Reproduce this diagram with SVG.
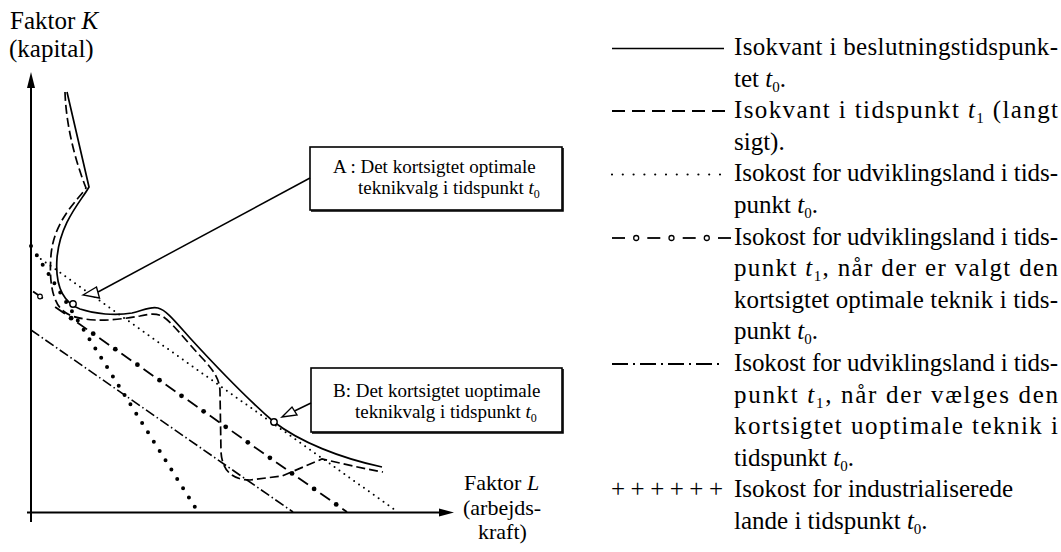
<svg xmlns="http://www.w3.org/2000/svg" width="1061" height="552" viewBox="0 0 1061 552">
<style>
  text { font-family: "Liberation Serif", "Times New Roman", serif; fill: #000; }
  .lg { font-size: 25px; }
  .ax { font-size: 25px; }
  .axr { font-size: 22px; }
  .bx { font-size: 19px; }
  .it { font-style: italic; }
  .sub { font-size: 15px; }
  .sub2 { font-size: 12px; }
  .axis { stroke: #000; stroke-width: 2; fill: none; }
  .solid { stroke: #000; stroke-width: 1.7; fill: none; }
  .dash { stroke: #000; stroke-width: 1.7; fill: none; stroke-dasharray: 9 4; }
  .fdot { stroke: #000; stroke-width: 2; fill: none; stroke-linecap: round; stroke-dasharray: 0 6; }
  .hdot { stroke: #000; stroke-width: 4; fill: none; stroke-linecap: round; stroke-dasharray: 0 11; }
  .odash { stroke: #000; stroke-width: 1.8; fill: none; stroke-dasharray: 12 15; stroke-dashoffset: 24.5; }
  .dd { stroke: #000; stroke-width: 1.6; fill: none; stroke-dasharray: 10 3 1.5 3; }
  .box { fill: #fff; stroke: #000; stroke-width: 1.6; }
  .shadow { fill: none; stroke: #000; stroke-width: 1.6; }
  .conn { stroke: #000; stroke-width: 1.5; fill: none; }
  .head { fill: #fff; stroke: #000; stroke-width: 1.4; stroke-linejoin: miter; }
  .pt { fill: #fff; stroke: #000; stroke-width: 1.4; }
  .mk { fill: #000; }
</style>
<rect x="0" y="0" width="1061" height="552" fill="#fff"/>

<g id="axes">
  <line class="axis" x1="31" y1="84" x2="31" y2="522"/>
  <polygon points="31,72 27,88 35,88" fill="#000"/>
  <line class="axis" x1="27" y1="512.5" x2="442" y2="512.5"/>
  <polygon points="454,512.5 439,508.5 439,516.5" fill="#000"/>
  <text class="ax" x="10" y="29">Faktor <tspan class="it">K</tspan></text>
  <text class="ax" x="9" y="57">(kapital)</text>
  <text class="axr" x="464" y="490">Faktor <tspan class="it">L</tspan></text>
  <text class="axr" x="463" y="514.5">(arbejds-</text>
  <text class="axr" x="478" y="539">kraft)</text>
</g>

<g id="isocost-lines">
  <line id="isocost-industrial" class="hdot" x1="31" y1="246" x2="198" y2="512"/>
  <line id="isocost-t0" class="fdot" x1="31" y1="252" x2="398" y2="512"/>
  <line id="isocost-t1-optimal" class="odash" x1="31" y1="290" x2="347" y2="512"/>
  <g id="isocost-t1-optimal-markers" class="mk">
    <circle cx="40" cy="296.5" r="2.3" fill="#fff" stroke="#000" stroke-width="1.2"/>
    <circle cx="71.1" cy="318.2" r="2.4"/>
    <circle cx="93.2" cy="333.7" r="2.4"/>
    <circle cx="115.3" cy="349.2" r="2.4"/>
    <circle cx="137.4" cy="364.7" r="2.4"/>
    <circle cx="159.5" cy="380.2" r="2.4"/>
    <circle cx="181.5" cy="395.8" r="2.4"/>
    <circle cx="203.6" cy="411.3" r="2.4"/>
    <circle cx="225.7" cy="426.8" r="2.4"/>
    <circle cx="247.8" cy="442.3" r="2.4"/>
    <circle cx="269.9" cy="457.8" r="2.4"/>
    <circle cx="292.0" cy="473.4" r="2.4"/>
    <circle cx="314.1" cy="488.9" r="2.4"/>
    <circle cx="336.2" cy="504.4" r="2.4"/>
  </g>
  <line id="isocost-t1-suboptimal" class="dd" x1="31" y1="330" x2="293" y2="512"/>
</g>

<g id="isoquants">
  <path id="isoquant-t0" class="solid" d="M67,92 L89,187 C82,200 60,222 57,258 C55,285 62,302 80,309 C95,314 115,316 132,313 C142,311 150,306 158,308 C166,310 174,320 190,338 C212,362 245,397 274,422 C300,442 340,458 382,467"/>
  <path id="isoquant-t1" class="dash" d="M65,92 C66,125 75,160 86,188 C78,200 54,220 51,255 C49,280 52,300 62,310 C70,317 80,319 95,320 C110,321 128,318 140,316 C150,314 155,313 162,316 C172,322 185,340 204,360 C214,371 220,380 220,392 L221,452 C222,470 232,480 250,480 L282,476 L322,459 C340,463 360,468 383,472"/>
</g>

<g id="box-a">
  <rect class="box" x="310" y="147" width="252" height="63"/>
  <path class="shadow" d="M311,211 H563 V148"/>
  <text class="bx" x="333" y="173">A : Det kortsigtet optimale</text>
  <text class="bx" x="358" y="194">teknikvalg i tidspunkt <tspan class="it">t</tspan><tspan class="sub2" dy="4">0</tspan></text>
</g>

<g id="box-b">
  <rect class="box" x="311" y="368" width="251" height="64"/>
  <path class="shadow" d="M312,433 H563 V369"/>
  <text class="bx" x="333" y="397">B: Det kortsigtet uoptimale</text>
  <text class="bx" x="355" y="418">teknikvalg i tidspunkt <tspan class="it">t</tspan><tspan class="sub2" dy="4">0</tspan></text>
</g>

<g id="connectors">
  <line class="conn" x1="98" y1="292" x2="310" y2="178"/>
  <polygon class="head" points="83,295 96.5,287 99.5,298"/>
  <line class="conn" x1="294.5" y1="411" x2="311" y2="403"/>
  <polygon class="head" points="282,417 292,407 297,415"/>
</g>

<g id="points">
  <circle id="point-a" class="pt" cx="73" cy="304" r="3.2"/>
  <circle id="point-b" class="pt" cx="274" cy="422" r="3.2"/>
</g>

<g id="legend">
  <g id="legend-symbols">
    <line x1="612" y1="48.5" x2="724" y2="48.5" stroke="#000" stroke-width="1.7"/>
    <line x1="612" y1="111" x2="725" y2="111" stroke="#000" stroke-width="1.8" stroke-dasharray="13 7"/>
    <line x1="612" y1="174.5" x2="720.1" y2="174.5" stroke="#000" stroke-width="2.2" stroke-linecap="round" stroke-dasharray="0 10.8"/>
    <g stroke="#000" stroke-width="1.8" fill="none">
      <line x1="612" y1="238" x2="625" y2="238"/>
      <circle cx="636.2" cy="238" r="2.5" stroke-width="1.3"/>
      <line x1="647.3" y1="238" x2="660.3" y2="238"/>
      <circle cx="671.5" cy="238" r="2.5" stroke-width="1.3"/>
      <line x1="682.7" y1="238" x2="695.7" y2="238"/>
      <circle cx="706.8" cy="238" r="2.5" stroke-width="1.3"/>
      <line x1="718" y1="238" x2="731" y2="238"/>
    </g>
    <line x1="612" y1="364" x2="720" y2="364" stroke="#000" stroke-width="1.8" stroke-dasharray="16 5 2 5"/>
    <text class="lg" x="611" y="497" textLength="112" lengthAdjust="spacing">++++++</text>
  </g>
  <g id="legend-text">
    <text class="lg" x="734" y="55" textLength="324" lengthAdjust="spacing">Isokvant i beslutningstidspunk-</text>
    <text class="lg" x="734" y="86.6">tet <tspan class="it">t</tspan><tspan class="sub" dy="5">0</tspan><tspan dy="-5">.</tspan></text>
    <text class="lg" x="734" y="118.2" textLength="324" lengthAdjust="spacing">Isokvant i tidspunkt <tspan class="it">t</tspan><tspan class="sub" dy="5">1</tspan><tspan dy="-5"> (langt</tspan></text>
    <text class="lg" x="734" y="149.8">sigt).</text>
    <text class="lg" x="734" y="181.4" textLength="324" lengthAdjust="spacing">Isokost for udviklingsland i tids-</text>
    <text class="lg" x="734" y="213">punkt <tspan class="it">t</tspan><tspan class="sub" dy="5">0</tspan><tspan dy="-5">.</tspan></text>
    <text class="lg" x="734" y="244.6" textLength="324" lengthAdjust="spacing">Isokost for udviklingsland i tids-</text>
    <text class="lg" x="734" y="276.2" textLength="324" lengthAdjust="spacing">punkt <tspan class="it">t</tspan><tspan class="sub" dy="5">1</tspan><tspan dy="-5">, når der er valgt den</tspan></text>
    <text class="lg" x="734" y="307.8" textLength="324" lengthAdjust="spacing">kortsigtet optimale teknik i tids-</text>
    <text class="lg" x="734" y="339.4">punkt <tspan class="it">t</tspan><tspan class="sub" dy="5">0</tspan><tspan dy="-5">.</tspan></text>
    <text class="lg" x="734" y="371" textLength="324" lengthAdjust="spacing">Isokost for udviklingsland i tids-</text>
    <text class="lg" x="734" y="402.6" textLength="324" lengthAdjust="spacing">punkt <tspan class="it">t</tspan><tspan class="sub" dy="5">1</tspan><tspan dy="-5">, når der vælges den</tspan></text>
    <text class="lg" x="734" y="434.2" textLength="324" lengthAdjust="spacing">kortsigtet uoptimale teknik i</text>
    <text class="lg" x="734" y="465.8">tidspunkt <tspan class="it">t</tspan><tspan class="sub" dy="5">0</tspan><tspan dy="-5">.</tspan></text>
    <text class="lg" x="734" y="497.4">Isokost for industrialiserede</text>
    <text class="lg" x="734" y="529">lande i tidspunkt <tspan class="it">t</tspan><tspan class="sub" dy="5">0</tspan><tspan dy="-5">.</tspan></text>
  </g>
</g>
</svg>
